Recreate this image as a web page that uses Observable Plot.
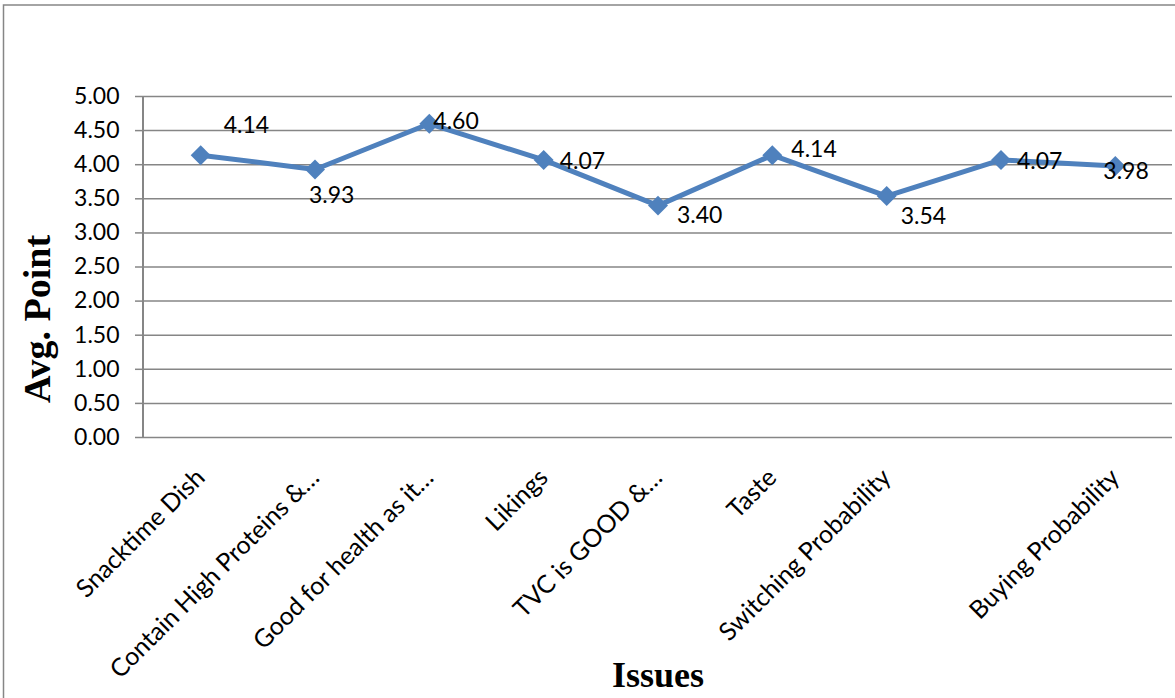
<!DOCTYPE html>
<html><head><meta charset="utf-8">
<script src="https://cdn.jsdelivr.net/npm/d3@7"></script>
<script src="https://cdn.jsdelivr.net/npm/@observablehq/plot@0.6"></script>
<style>body{margin:0;background:#fff}</style>
</head><body><div id="chart"></div>
<script>
// ---- data ----
const categories = [
  "Snacktime Dish",
  "Contain High Proteins &…",
  "Good for health as it…",
  "Likings",
  "TVC is GOOD &…",
  "Taste",
  "Switching Probability",
  "",
  "Buying Probability"
];
const avgPoints = [4.14, 3.93, 4.60, 4.07, 3.40, 4.14, 3.54, 4.07, 3.98];
const yTicks = [0, 0.5, 1, 1.5, 2, 2.5, 3, 3.5, 4, 4.5, 5];
const labelPlacement = ["aboveRight", "belowLeft", "snug", "right", "rightLow", "rightHigh", "below", "right", "left"];
const xAxisTitle = "Issues";
const yAxisTitle = "Avg. Point";

// ---- build ----
const data = avgPoints.map((v, i) => ({i, v, label: v.toFixed(2), place: labelPlacement[i]}));
const labelOffsets = {
  aboveRight: [23, -30],
  belowLeft: [-6, 26],
  snug: [4, -2],
  right: [16, 2],
  rightLow: [19, 10],
  rightHigh: [19, -6],
  below: [14, 21],
  left: [-12, 6]
};
const grey = "#868686";
const blue = "#4F81BD";

function yAxisLine(index, scales, values, dims) {
  const g = d3.create("svg:g");
  g.append("line")
    .attr("x1", dims.marginLeft).attr("x2", dims.marginLeft)
    .attr("y1", dims.marginTop).attr("y2", dims.height - dims.marginBottom)
    .attr("stroke", grey).attr("stroke-width", 2);
  return g.node();
}
function outerBorder(index, scales, values, dims) {
  const g = d3.create("svg:g");
  g.append("rect")
    .attr("x", 3.5).attr("y", 5)
    .attr("width", dims.width + 10).attr("height", dims.height + 10)
    .attr("fill", "none").attr("stroke", grey).attr("stroke-width", 1.5);
  return g.node();
}

const plot = Plot.plot({
  width: 1175,
  height: 698,
  marginLeft: 143,
  marginRight: 3,
  marginTop: 96,
  marginBottom: 261,
  style: {fontFamily: "Lato", fontSize: "23px", color: "black", background: "white"},
  x: {type: "point", domain: d3.range(categories.length), padding: 0.5, round: false},
  y: {domain: [0, 5]},
  marks: [
    outerBorder,
    Plot.ruleY(yTicks, {y: d => d, stroke: grey, strokeWidth: 1.5}),
    Plot.axisY(yTicks, {tickSize: 8, tickPadding: 16, tickFormat: d => d.toFixed(2), stroke: grey, strokeWidth: 1.5, label: null, fill: "black"}),
    Plot.axisX(d3.range(categories.length), {tickFormat: i => categories[i], tickRotate: -45, tickSize: 0, tickPadding: 36, label: null, fill: "black", fontSize: 25}),
    yAxisLine,
    Plot.line(data, {x: "i", y: "v", stroke: blue, strokeWidth: 5}),
    Plot.dot(data, {x: "i", y: "v", symbol: "diamond2", fill: blue, stroke: "none", r: 9}),
    ...Object.entries(labelOffsets).map(([p, [dx, dy]]) =>
      Plot.text(data.filter(d => d.place === p), {x: "i", y: "v", text: "label", dx, dy, textAnchor: "start", fill: "black"})
    ),
    Plot.text([yAxisTitle], {text: d => d, frameAnchor: "left", textAnchor: "middle", lineAnchor: "middle", dx: -106, dy: 52, rotate: -90, fontFamily: "Liberation Serif", fontWeight: "bold", fontSize: 38, fill: "black"}),
    Plot.text([xAxisTitle], {text: d => d, frameAnchor: "bottom", textAnchor: "middle", lineAnchor: "middle", dy: 238, fontFamily: "Liberation Serif", fontWeight: "bold", fontSize: 36, fill: "black"})
  ]
});
document.getElementById("chart").appendChild(plot);
</script>
</body></html>
